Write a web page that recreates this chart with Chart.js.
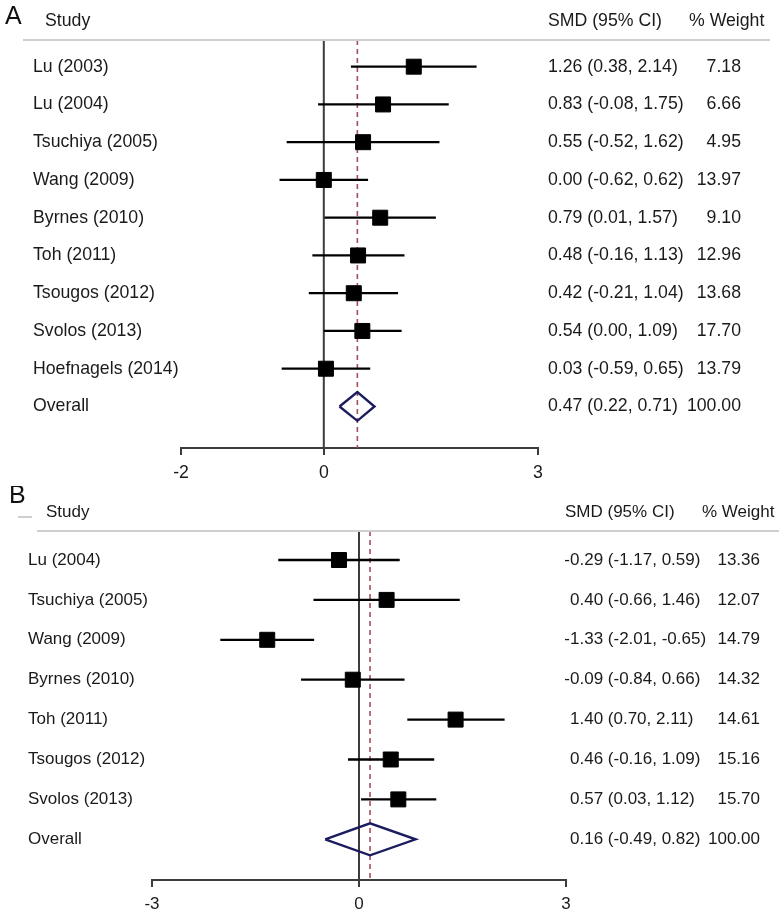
<!DOCTYPE html>
<html>
<head>
<meta charset="utf-8">
<script src="https://cdn.jsdelivr.net/npm/chart.js@4"></script>
<style>
  html, body { margin: 0; padding: 0; background: #fff; }
  body { width: 784px; height: 914px; position: relative; overflow: hidden; }
  .panel { position: absolute; left: 0; width: 784px; }
  canvas { display: block; }
</style>
</head>
<body>
<div class="panel" style="top:0;height:486px"><canvas id="cA" width="784" height="486"></canvas></div>
<div class="panel" style="top:486px;height:428px"><canvas id="cB" width="784" height="428"></canvas></div>
<script>
// ---------- Panel A data ----------
const studiesA = ['Lu (2003)', 'Lu (2004)', 'Tsuchiya (2005)', 'Wang (2009)', 'Byrnes (2010)', 'Toh (2011)', 'Tsougos (2012)', 'Svolos (2013)', 'Hoefnagels (2014)'];
const smdA    = [1.26, 0.83, 0.55, 0.00, 0.79, 0.48, 0.42, 0.54, 0.03];
const lowA    = [0.38, -0.08, -0.52, -0.62, 0.01, -0.16, -0.21, 0.00, -0.59];
const highA   = [2.14, 1.75, 1.62, 0.62, 1.57, 1.13, 1.04, 1.09, 0.65];
const weightA = [7.18, 6.66, 4.95, 13.97, 9.10, 12.96, 13.68, 17.70, 13.79];
const overallA = [0.47, 0.22, 0.71];   // estimate, lower, upper
const overallWeightA = 100.00;
const xTicksA = [-2, 0, 3];

// ---------- Panel B data ----------
const studiesB = ['Lu (2004)', 'Tsuchiya (2005)', 'Wang (2009)', 'Byrnes (2010)', 'Toh (2011)', 'Tsougos (2012)', 'Svolos (2013)'];
const smdB    = [-0.29, 0.40, -1.33, -0.09, 1.40, 0.46, 0.57];
const lowB    = [-1.17, -0.66, -2.01, -0.84, 0.70, -0.16, 0.03];
const highB   = [0.59, 1.46, -0.65, 0.66, 2.11, 1.09, 1.12];
const weightB = [13.36, 12.07, 14.79, 14.32, 14.61, 15.16, 15.70];
const overallB = [0.16, -0.49, 0.82];
const overallWeightB = 100.00;
const xTicksB = [-3, 0, 3];

const headerStudy = 'Study';
const headerSMD = 'SMD (95% CI)';
const headerWeight = '% Weight';
const overallLabel = 'Overall';

const FAMILY = '"Liberation Sans", Arial, sans-serif';
Chart.defaults.font.family = FAMILY;
Chart.defaults.color = '#1a1a1a';

function buildPanel(canvasId, d, g) {
  const FS = g.fs;
  const FONT = FS + 'px ' + FAMILY;
  const n = d.studies.length;
  const labels = d.studies.concat([overallLabel]);
  const rowOverall = n + 1;
  const datasets = [];
  // zero line
  datasets.push({ data: [{x: 0, y: g.yMin}, {x: 0, y: g.yMax}], showLine: true,
    borderColor: '#3c3c3c', borderWidth: 2, pointRadius: 0, order: 5 });
  // pooled estimate dashed line
  datasets.push({ data: [{x: d.overall[0], y: g.yMin}, {x: d.overall[0], y: g.yMax}], showLine: true,
    borderColor: '#a3505c', borderWidth: 1.6, borderDash: [5, 4], pointRadius: 0, order: 4 });
  // CI lines
  for (let i = 0; i < n; i++) {
    datasets.push({ data: [{x: d.low[i], y: i + 1}, {x: d.high[i], y: i + 1}], showLine: true,
      borderColor: '#000', borderWidth: 2.3, pointRadius: 0, order: 3 });
  }
  // squares
  datasets.push({ data: d.smd.map((v, i) => ({x: v, y: i + 1})), pointStyle: 'rect',
    pointRadius: 10.6, backgroundColor: '#000', borderColor: '#000', borderWidth: 1, order: 1 });
  // diamond
  const o = d.overall;
  datasets.push({ data: [
      {x: o[1], y: rowOverall}, {x: o[0], y: rowOverall - g.dh},
      {x: o[2], y: rowOverall}, {x: o[0], y: rowOverall + g.dh},
      {x: o[1], y: rowOverall}],
    showLine: true, borderColor: '#1b1b5e', borderWidth: 2.4, pointRadius: 0, tension: 0,
    borderJoinStyle: 'miter', fill: false, order: 0 });

  const textPlugin = {
    id: 'forestText' + canvasId,
    afterDraw(chart) {
      const ctx = chart.ctx;
      const ys = chart.scales.y;
      const top = chart.chartArea.top;
      ctx.save();
      // panel letter
      ctx.fillStyle = '#111';
      ctx.font = '25px ' + FAMILY;
      ctx.textBaseline = 'middle';
      ctx.textAlign = 'left';
      ctx.fillText(g.letter, g.letterX, g.letterY);
      // header rule
      ctx.strokeStyle = '#cfcfcf';
      ctx.lineWidth = 2;
      ctx.beginPath();
      ctx.moveTo(g.ruleX0, top); ctx.lineTo(g.ruleX1, top);
      if (g.dash) { ctx.moveTo(g.dash[0], g.dash[2]); ctx.lineTo(g.dash[1], g.dash[2]); }
      ctx.stroke();
      // headers
      ctx.font = FONT;
      ctx.fillStyle = '#1a1a1a';
      ctx.fillText(headerStudy, g.studyX, g.headerY);
      ctx.fillText(headerSMD, g.smdHeadX, g.headerY);
      ctx.fillText(headerWeight, g.wHeadX, g.headerY);
      const minusW = ctx.measureText('-').width;
      const fmt = v => v.toFixed(2);
      const rows = [];
      for (let i = 0; i < n; i++) rows.push([d.smd[i], d.low[i], d.high[i], d.weight[i], i + 1]);
      rows.push([o[0], o[1], o[2], d.overallWeight, rowOverall]);
      rows.forEach(r => {
        const y = ys.getPixelForValue(r[4]);
        const s = fmt(r[0]) + ' (' + fmt(r[1]) + ', ' + fmt(r[2]) + ')';
        ctx.textAlign = 'left';
        ctx.fillText(s, g.smdX - (r[0] < 0 ? minusW : 0), y);
        ctx.textAlign = 'right';
        ctx.fillText(fmt(r[3]), g.wRight, y);
      });
      ctx.restore();
    }
  };

  return new Chart(document.getElementById(canvasId), {
    type: 'scatter',
    data: { datasets },
    options: {
      responsive: false,
      animation: false,
      devicePixelRatio: 1,
      font: { size: FS },
      layout: { padding: { left: g.padLeft, right: g.padRight, top: g.padTop, bottom: 0 } },
      plugins: { legend: { display: false }, tooltip: { enabled: false } },
      scales: {
        x: {
          type: 'linear', min: d.xTicks[0], max: d.xTicks[d.xTicks.length - 1],
          afterBuildTicks: s => { s.ticks = d.xTicks.map(v => ({value: v})); },
          afterFit: s => { s.height = g.xAxisH; },
          grid: { drawOnChartArea: false, drawTicks: true, tickLength: 7, color: '#3c3c3c', lineWidth: 2 },
          border: { display: true, color: '#3c3c3c', width: 2 },
          ticks: { color: '#1a1a1a', padding: 7, font: { size: FS }, maxRotation: 0, autoSkip: false }
        },
        y: {
          type: 'linear', reverse: true, min: g.yMin, max: g.yMax,
          afterBuildTicks: s => { s.ticks = labels.map((_, i) => ({value: i + 1})); },
          afterFit: s => { s.width = g.yAxisW; },
          grid: { display: false, drawTicks: false },
          border: { display: false },
          ticks: { crossAlign: 'far', padding: 0, color: '#1a1a1a', font: { size: FS }, autoSkip: false,
            callback: v => labels[Math.round(v) - 1] }
        }
      }
    },
    plugins: [textPlugin]
  });
}

buildPanel('cA', {
  studies: studiesA, smd: smdA, low: lowA, high: highA, weight: weightA,
  overall: overallA, overallWeight: overallWeightA, xTicks: xTicksA
}, {
  fs: 17.7,
  letter: 'A', letterX: 5, letterY: 17,
  padLeft: 33, yAxisW: 148, padRight: 246, padTop: 40, xAxisH: 486 - 448,
  yMin: 0.293, yMax: 11.10, dh: 0.38,
  ruleX0: 23, ruleX1: 770, headerY: 21,
  studyX: 45, smdHeadX: 548, wHeadX: 689, smdX: 548, wRight: 741
});

buildPanel('cB', {
  studies: studiesB, smd: smdB, low: lowB, high: highB, weight: weightB,
  overall: overallB, overallWeight: overallWeightB, xTicks: xTicksB
}, {
  fs: 17,
  letter: 'B', letterX: 9, letterY: 10,
  padLeft: 28, yAxisW: 124, padRight: 218, padTop: 45, xAxisH: 428 - 394,
  yMin: 0.273, yMax: 9.02, dh: 0.40,
  ruleX0: 37, ruleX1: 779, headerY: 26, dash: [18, 32, 31],
  studyX: 46, smdHeadX: 565, wHeadX: 702, smdX: 570, wRight: 760
});
</script>
</body>
</html>
